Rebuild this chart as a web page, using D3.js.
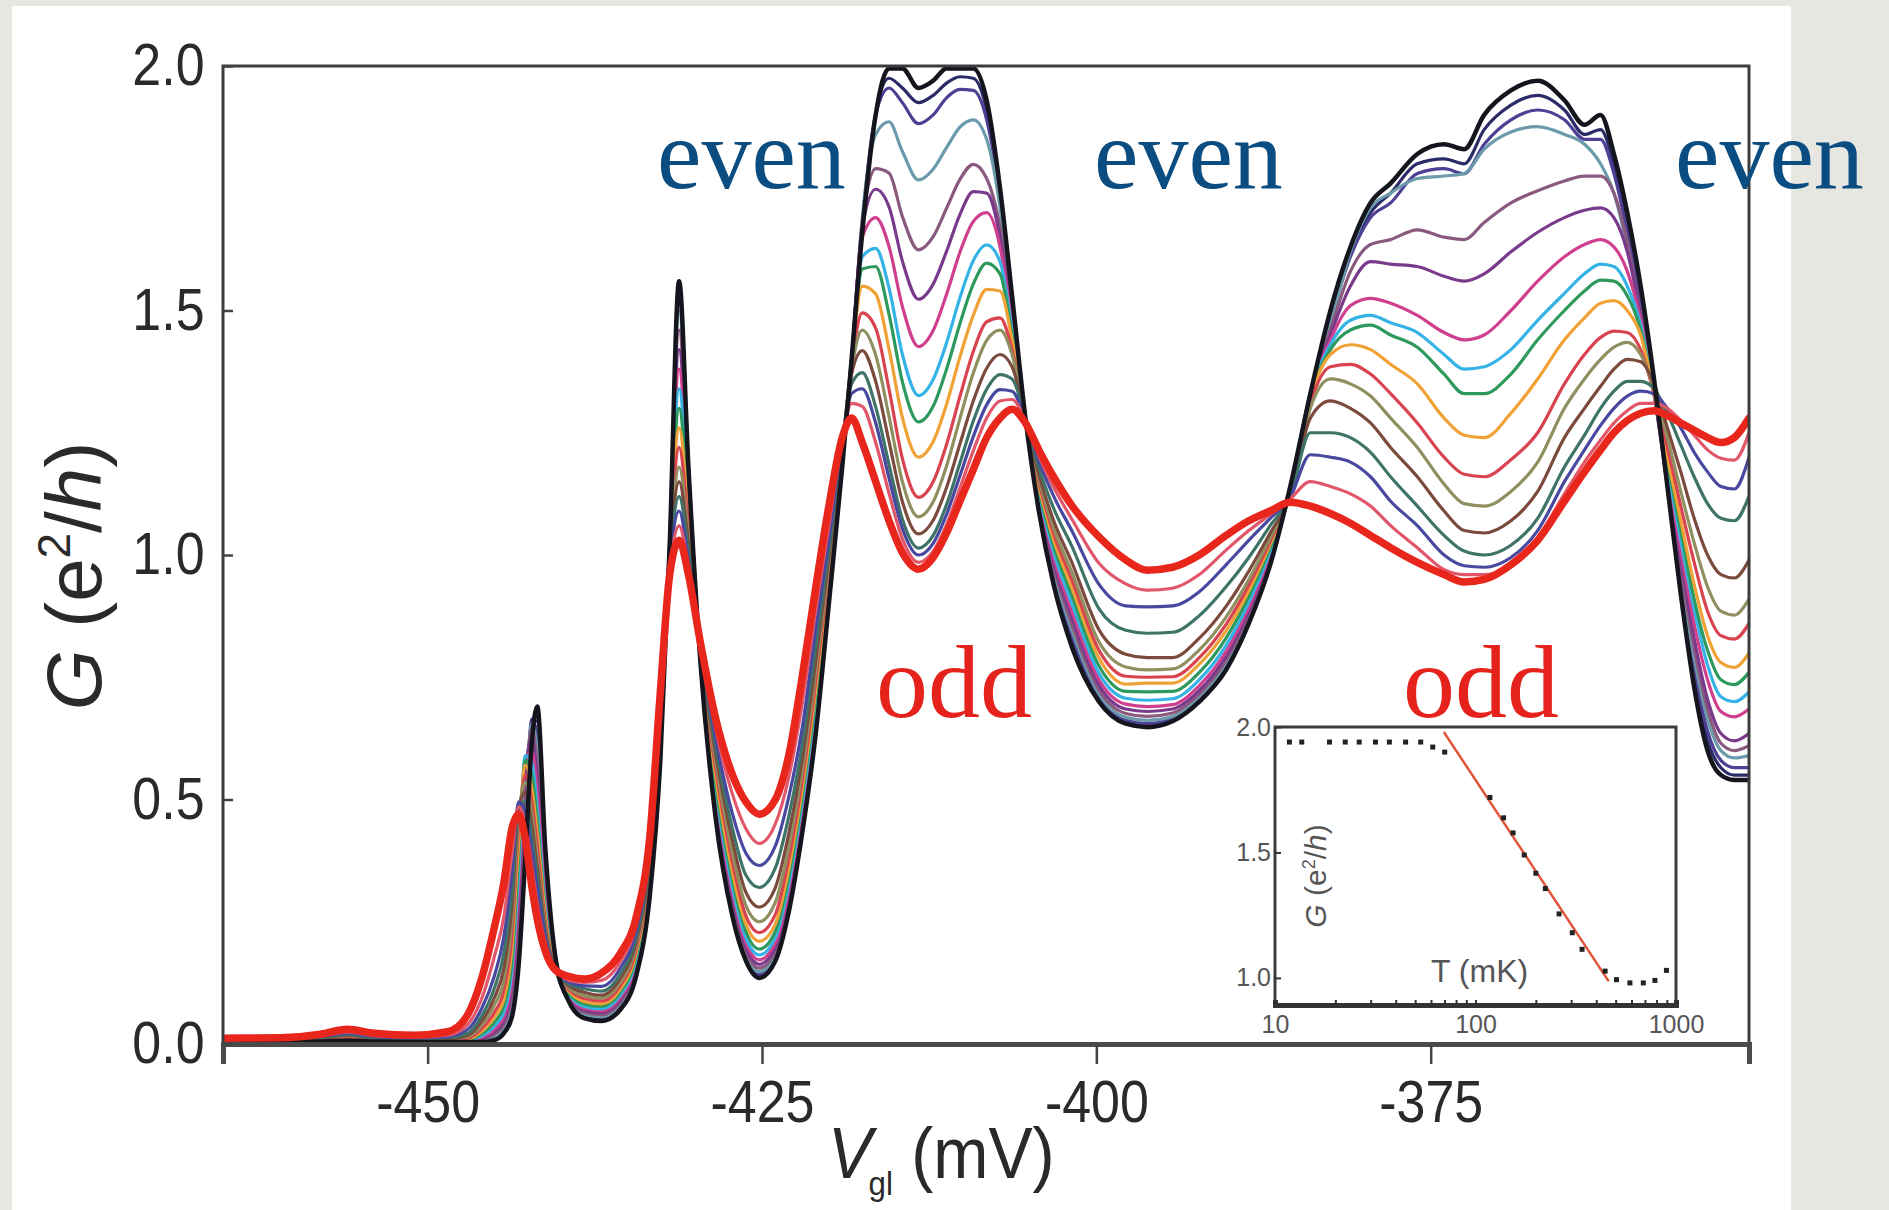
<!DOCTYPE html>
<html>
<head>
<meta charset="utf-8">
<script src="https://cdn.jsdelivr.net/npm/d3@7"></script>
<style>
  body { margin: 0; background: #e7e7e2; }
  svg { display: block; }
</style>
</head>
<body>
<svg id="chart" width="1889" height="1210"></svg>
<script>
// gate voltage grid (mV), shared by every temperature trace
const vgl = [-465.3, -461, -458, -456, -454, -451, -448.5, -447, -446, -445,
  -444.3, -443.7, -443.2, -442.7, -442.2, -441.8, -441.2, -440.4, -439.4, -438.3,
  -437, -435.6, -434.4, -433.4, -432.6, -431.9, -431.2, -430.5, -429.6, -428.5, -427.2, -426.2, -425.2,
  -424, -423, -422, -421, -420, -419, -418.3, -417.5, -416.5, -415.5, -414.5, -413.3,
  -412.2, -411.2, -410.2, -409.2, -408.2, -407.2, -406.3, -405.3,
  -404.3, -403.2, -401.8, -399.8, -397.8, -396.2,
  -394.3, -392.3, -390.3, -388.6, -387, -385.5, -384, -382.5, -381, -379.5,
  -378, -376, -374, -372.5, -371, -369, -367, -365,
  -363.5, -362.3, -361.3, -360.3, -359.3,
  -358.3, -357.3, -356.3, -355.3, -354.3, -353.3, -352.3, -351.2];

// conductance G (e^2/h), coldest trace first
const G00 = [0.004, 0.004, 0.005, 0.007, 0.005, 0.004, 0.004, 0.004, 0.004, 0.008,
  0.022, 0.055, 0.16, 0.38, 0.62, 0.69, 0.40, 0.17, 0.085, 0.053,
  0.047, 0.07, 0.14, 0.30, 0.58, 1.02, 1.56, 1.18, 0.78, 0.47, 0.26, 0.17, 0.135,
  0.17, 0.27, 0.43, 0.63, 0.9, 1.18, 1.40, 1.66, 1.9, 1.995, 1.995, 1.955,
  1.97, 1.995, 1.995, 1.995, 1.93, 1.75, 1.53, 1.28,
  1.09, 0.94, 0.81, 0.70, 0.655, 0.648,
  0.66, 0.70, 0.765, 0.86, 0.98, 1.14, 1.33, 1.5, 1.63, 1.72,
  1.76, 1.82, 1.84, 1.83, 1.9, 1.95, 1.97, 1.93,
  1.88, 1.9, 1.82, 1.7, 1.55,
  1.36, 1.14, 0.92, 0.73, 0.6, 0.55, 0.54, 0.54];
const G01 = [0.004, 0.004, 0.005, 0.007, 0.005, 0.004, 0.004, 0.004, 0.005, 0.01,
  0.026, 0.065, 0.19, 0.43, 0.66, 0.66, 0.37, 0.165, 0.086, 0.055,
  0.05, 0.073, 0.143, 0.303, 0.585, 1.015, 1.55, 1.18, 0.78, 0.475, 0.265, 0.173, 0.138,
  0.173, 0.275, 0.436, 0.636, 0.905, 1.185, 1.40, 1.67, 1.9, 1.975, 1.955, 1.925,
  1.94, 1.965, 1.978, 1.975, 1.91, 1.74, 1.52, 1.28,
  1.094, 0.947, 0.82, 0.703, 0.657, 0.65,
  0.661, 0.701, 0.768, 0.863, 0.982, 1.14, 1.33, 1.49, 1.62, 1.7,
  1.74, 1.8, 1.81, 1.8, 1.87, 1.92, 1.94, 1.91,
  1.86, 1.87, 1.8, 1.68, 1.53,
  1.35, 1.14, 0.93, 0.75, 0.62, 0.565, 0.55, 0.55];
const G02 = [0.004, 0.004, 0.005, 0.008, 0.005, 0.004, 0.004, 0.005, 0.006, 0.012,
  0.03, 0.075, 0.21, 0.46, 0.665, 0.63, 0.35, 0.16, 0.088, 0.058,
  0.053, 0.076, 0.147, 0.307, 0.59, 1.02, 1.53, 1.18, 0.78, 0.48, 0.27, 0.177, 0.142,
  0.177, 0.28, 0.443, 0.643, 0.91, 1.19, 1.40, 1.68, 1.9, 1.955, 1.925, 1.882,
  1.9, 1.935, 1.952, 1.95, 1.89, 1.73, 1.51, 1.28,
  1.099, 0.956, 0.831, 0.709, 0.662, 0.655,
  0.665, 0.704, 0.772, 0.867, 0.985, 1.138, 1.33, 1.48, 1.61, 1.69,
  1.72, 1.78, 1.79, 1.78, 1.84, 1.89, 1.91, 1.89,
  1.85, 1.85, 1.78, 1.66, 1.51,
  1.34, 1.14, 0.94, 0.77, 0.64, 0.58, 0.565, 0.565];
const G03 = [0.005, 0.005, 0.006, 0.008, 0.006, 0.005, 0.005, 0.005, 0.007, 0.015,
  0.035, 0.085, 0.23, 0.49, 0.655, 0.60, 0.335, 0.158, 0.09, 0.061,
  0.056, 0.08, 0.152, 0.312, 0.6, 1.02, 1.5, 1.17, 0.78, 0.49, 0.28, 0.183, 0.148,
  0.183, 0.287, 0.451, 0.651, 0.915, 1.19, 1.40, 1.69, 1.86, 1.886, 1.825, 1.767,
  1.789, 1.833, 1.875, 1.89, 1.85, 1.71, 1.5, 1.28,
  1.105, 0.966, 0.844, 0.716, 0.668, 0.662,
  0.67, 0.709, 0.778, 0.872, 0.988, 1.136, 1.33, 1.47, 1.62, 1.71,
  1.74, 1.77, 1.775, 1.78, 1.83, 1.865, 1.876, 1.86,
  1.84, 1.8, 1.74, 1.63, 1.49,
  1.33, 1.14, 0.95, 0.79, 0.665, 0.6, 0.585, 0.59];
const G04 = [0.005, 0.005, 0.006, 0.009, 0.006, 0.005, 0.005, 0.006, 0.009, 0.02,
  0.04, 0.10, 0.26, 0.52, 0.645, 0.57, 0.32, 0.155, 0.092, 0.065,
  0.06, 0.085, 0.157, 0.318, 0.61, 1.02, 1.46, 1.155, 0.785, 0.5, 0.29, 0.19, 0.155,
  0.19, 0.295, 0.46, 0.66, 0.92, 1.195, 1.40, 1.68, 1.79, 1.781, 1.692, 1.624,
  1.651, 1.709, 1.768, 1.799, 1.77, 1.67, 1.49, 1.28,
  1.11, 0.975, 0.856, 0.724, 0.676, 0.67,
  0.677, 0.716, 0.785, 0.878, 0.992, 1.135, 1.33, 1.46, 1.58, 1.635,
  1.645, 1.665, 1.65, 1.645, 1.68, 1.72, 1.745, 1.765,
  1.775, 1.775, 1.74, 1.64, 1.49,
  1.33, 1.15, 0.97, 0.81, 0.685, 0.615, 0.6, 0.61];
const G05 = [0.005, 0.005, 0.006, 0.01, 0.007, 0.005, 0.006, 0.006, 0.011, 0.025,
  0.048, 0.115, 0.29, 0.55, 0.625, 0.54, 0.305, 0.153, 0.094, 0.069,
  0.064, 0.09, 0.162, 0.324, 0.62, 1.02, 1.42, 1.14, 0.785, 0.51, 0.30, 0.198, 0.163,
  0.198, 0.305, 0.47, 0.67, 0.927, 1.2, 1.40, 1.67, 1.748, 1.712, 1.601, 1.523,
  1.554, 1.621, 1.696, 1.743, 1.74, 1.65, 1.48, 1.28,
  1.116, 0.985, 0.87, 0.734, 0.685, 0.68,
  0.685, 0.723, 0.793, 0.885, 0.997, 1.133, 1.33, 1.45, 1.55, 1.6,
  1.595, 1.59, 1.57, 1.56, 1.575, 1.62, 1.66, 1.69,
  1.705, 1.71, 1.69, 1.62, 1.49,
  1.33, 1.16, 0.99, 0.83, 0.705, 0.635, 0.62, 0.635];
const G06 = [0.006, 0.006, 0.007, 0.011, 0.007, 0.006, 0.006, 0.007, 0.013, 0.03,
  0.056, 0.13, 0.32, 0.575, 0.60, 0.51, 0.29, 0.152, 0.097, 0.073,
  0.068, 0.095, 0.168, 0.33, 0.63, 1.03, 1.38, 1.13, 0.79, 0.52, 0.31, 0.207, 0.172,
  0.207, 0.316, 0.481, 0.681, 0.934, 1.2, 1.40, 1.65, 1.69, 1.631, 1.508, 1.426,
  1.459, 1.533, 1.619, 1.682, 1.70, 1.63, 1.47, 1.28,
  1.122, 0.996, 0.883, 0.745, 0.695, 0.69,
  0.694, 0.733, 0.803, 0.893, 1.002, 1.131, 1.33, 1.44, 1.51, 1.525,
  1.515, 1.49, 1.455, 1.44, 1.45, 1.5, 1.56, 1.61,
  1.635, 1.645, 1.63, 1.58, 1.48,
  1.33, 1.17, 1.01, 0.86, 0.745, 0.68, 0.669, 0.685];
const G07 = [0.006, 0.006, 0.008, 0.012, 0.008, 0.006, 0.007, 0.008, 0.016, 0.037,
  0.066, 0.15, 0.35, 0.59, 0.575, 0.48, 0.28, 0.151, 0.10, 0.077,
  0.072, 0.1, 0.174, 0.337, 0.64, 1.025, 1.34, 1.11, 0.79, 0.53, 0.32, 0.217, 0.182,
  0.218, 0.328, 0.493, 0.693, 0.942, 1.205, 1.40, 1.61, 1.627, 1.546, 1.41, 1.326,
  1.359, 1.434, 1.526, 1.602, 1.634, 1.60, 1.46, 1.28,
  1.128, 1.007, 0.899, 0.758, 0.707, 0.703,
  0.706, 0.745, 0.815, 0.903, 1.008, 1.13, 1.33, 1.43, 1.48, 1.49,
  1.475, 1.455, 1.41, 1.38, 1.385, 1.42, 1.48, 1.535,
  1.575, 1.595, 1.59, 1.55, 1.47,
  1.33, 1.18, 1.03, 0.89, 0.775, 0.71, 0.70, 0.72];
const G08 = [0.006, 0.006, 0.008, 0.013, 0.008, 0.007, 0.007, 0.009, 0.02, 0.045,
  0.078, 0.17, 0.38, 0.58, 0.55, 0.455, 0.27, 0.15, 0.103, 0.082,
  0.077, 0.106, 0.18, 0.344, 0.65, 1.02, 1.3, 1.1, 0.79, 0.54, 0.335, 0.23, 0.194,
  0.23, 0.342, 0.506, 0.706, 0.95, 1.21, 1.40, 1.585, 1.59, 1.492, 1.354, 1.272,
  1.304, 1.38, 1.473, 1.554, 1.597, 1.575, 1.45, 1.28,
  1.135, 1.02, 0.915, 0.773, 0.721, 0.72,
  0.721, 0.76, 0.83, 0.915, 1.015, 1.128, 1.325, 1.42, 1.46, 1.47,
  1.45, 1.425, 1.37, 1.33, 1.33, 1.37, 1.44, 1.5,
  1.54, 1.562, 1.56, 1.53, 1.46,
  1.33, 1.19, 1.05, 0.91, 0.805, 0.745, 0.735, 0.76];
const G09 = [0.007, 0.007, 0.009, 0.014, 0.009, 0.007, 0.008, 0.01, 0.025, 0.055,
  0.092, 0.195, 0.41, 0.57, 0.52, 0.43, 0.26, 0.15, 0.107, 0.087,
  0.082, 0.112, 0.187, 0.351, 0.66, 1.02, 1.26, 1.08, 0.795, 0.555, 0.35, 0.245, 0.21,
  0.245, 0.358, 0.52, 0.72, 0.96, 1.21, 1.40, 1.55, 1.534, 1.421, 1.281, 1.2,
  1.232, 1.308, 1.405, 1.49, 1.543, 1.54, 1.44, 1.28,
  1.142, 1.032, 0.931, 0.789, 0.736, 0.738,
  0.738, 0.777, 0.845, 0.927, 1.022, 1.126, 1.32, 1.41, 1.43, 1.42,
  1.39, 1.35, 1.28, 1.245, 1.24, 1.29, 1.36, 1.44,
  1.485, 1.515, 1.52, 1.5, 1.45,
  1.33, 1.2, 1.07, 0.94, 0.835, 0.78, 0.77, 0.80];
const G10 = [0.007, 0.007, 0.01, 0.015, 0.01, 0.008, 0.009, 0.012, 0.03, 0.065,
  0.11, 0.22, 0.44, 0.55, 0.495, 0.405, 0.25, 0.15, 0.11, 0.093,
  0.088, 0.119, 0.194, 0.358, 0.67, 1.01, 1.22, 1.06, 0.795, 0.57, 0.37, 0.262, 0.228,
  0.265, 0.378, 0.537, 0.737, 0.97, 1.215, 1.39, 1.495, 1.464, 1.339, 1.197, 1.118,
  1.15, 1.226, 1.324, 1.416, 1.477, 1.485, 1.42, 1.28,
  1.149, 1.044, 0.947, 0.805, 0.752, 0.75,
  0.751, 0.79, 0.858, 0.938, 1.028, 1.124, 1.31, 1.385, 1.39, 1.37,
  1.33, 1.27, 1.2, 1.165, 1.16, 1.195, 1.25, 1.35,
  1.41, 1.445, 1.458, 1.455, 1.42,
  1.33, 1.22, 1.1, 0.985, 0.885, 0.835, 0.828, 0.86];
const G11 = [0.008, 0.008, 0.011, 0.017, 0.011, 0.009, 0.01, 0.015, 0.037, 0.08,
  0.13, 0.25, 0.46, 0.535, 0.47, 0.38, 0.24, 0.15, 0.114, 0.099,
  0.094, 0.126, 0.202, 0.366, 0.68, 1.0, 1.18, 1.04, 0.80, 0.585, 0.39, 0.283, 0.25,
  0.29, 0.402, 0.557, 0.757, 0.982, 1.22, 1.38, 1.46, 1.409, 1.283, 1.15, 1.078,
  1.109, 1.182, 1.279, 1.372, 1.439, 1.46, 1.41, 1.28,
  1.156, 1.056, 0.963, 0.822, 0.771, 0.765,
  0.767, 0.806, 0.873, 0.95, 1.035, 1.122, 1.3, 1.36, 1.35, 1.325,
  1.28, 1.22, 1.145, 1.105, 1.1, 1.13, 1.19, 1.3,
  1.36, 1.4, 1.425, 1.435, 1.41,
  1.34, 1.24, 1.13, 1.025, 0.935, 0.885, 0.877, 0.91];
const G12 = [0.008, 0.008, 0.012, 0.018, 0.012, 0.01, 0.011, 0.018, 0.045, 0.095,
  0.155, 0.28, 0.48, 0.515, 0.445, 0.36, 0.232, 0.15, 0.118, 0.106,
  0.1, 0.134, 0.211, 0.374, 0.69, 1.0, 1.15, 1.025, 0.80, 0.60, 0.415, 0.31, 0.28,
  0.32, 0.43, 0.58, 0.78, 0.995, 1.225, 1.37, 1.418, 1.355, 1.232, 1.109, 1.043,
  1.071, 1.138, 1.227, 1.315, 1.382, 1.41, 1.385, 1.28,
  1.165, 1.071, 0.983, 0.847, 0.797, 0.79,
  0.79, 0.83, 0.895, 0.967, 1.045, 1.12, 1.28, 1.315, 1.3, 1.27,
  1.22, 1.16, 1.09, 1.05, 1.045, 1.07, 1.13, 1.24,
  1.3, 1.345, 1.38, 1.4, 1.395,
  1.35, 1.26, 1.17, 1.075, 1.0, 0.96, 0.953, 0.99];
const G13 = [0.009, 0.009, 0.013, 0.02, 0.013, 0.011, 0.013, 0.022, 0.055, 0.115,
  0.185, 0.31, 0.49, 0.495, 0.42, 0.34, 0.225, 0.15, 0.122, 0.113,
  0.108, 0.143, 0.221, 0.383, 0.70, 0.99, 1.12, 1.01, 0.805, 0.615, 0.44, 0.345, 0.32,
  0.36, 0.465, 0.61, 0.81, 1.01, 1.23, 1.35, 1.373, 1.303, 1.185, 1.073, 1.014,
  1.04, 1.103, 1.188, 1.274, 1.339, 1.369, 1.36, 1.28,
  1.179, 1.096, 1.016, 0.89, 0.846, 0.84,
  0.842, 0.876, 0.935, 0.995, 1.06, 1.12, 1.25, 1.25, 1.24, 1.21,
  1.16, 1.1, 1.04, 1.008, 1.0, 1.02, 1.075, 1.18,
  1.245, 1.3, 1.335, 1.355, 1.355,
  1.34, 1.29, 1.225, 1.16, 1.105, 1.075, 1.07, 1.12];
const G14 = [0.01, 0.01, 0.015, 0.022, 0.015, 0.012, 0.015, 0.03, 0.07, 0.14,
  0.22, 0.35, 0.495, 0.475, 0.395, 0.32, 0.218, 0.15, 0.126, 0.119,
  0.118, 0.155, 0.232, 0.393, 0.705, 0.98, 1.09, 0.99, 0.81, 0.63, 0.47, 0.39, 0.365,
  0.405, 0.505, 0.645, 0.845, 1.03, 1.235, 1.33, 1.34, 1.27, 1.157, 1.054, 1.0,
  1.024, 1.083, 1.162, 1.242, 1.307, 1.338, 1.335, 1.275,
  1.193, 1.121, 1.048, 0.94, 0.896, 0.894,
  0.896, 0.925, 0.98, 1.03, 1.075, 1.118, 1.205, 1.2, 1.19, 1.16,
  1.11, 1.06, 1.0, 0.978, 0.975, 0.995, 1.05, 1.15,
  1.215, 1.265, 1.3, 1.325, 1.335,
  1.33, 1.3, 1.26, 1.21, 1.17, 1.14, 1.135, 1.2];
const G15 = [0.011, 0.011, 0.017, 0.025, 0.017, 0.014, 0.018, 0.04, 0.09, 0.18,
  0.26, 0.39, 0.485, 0.45, 0.36, 0.285, 0.205, 0.151, 0.13, 0.126,
  0.13, 0.168, 0.245, 0.405, 0.71, 0.97, 1.06, 0.975, 0.815, 0.65, 0.51, 0.44, 0.41,
  0.45, 0.545, 0.695, 0.885, 1.06, 1.24, 1.31, 1.304, 1.23, 1.126, 1.033, 0.985,
  1.008, 1.062, 1.137, 1.213, 1.28, 1.315, 1.318, 1.275,
  1.203, 1.139, 1.072, 0.983, 0.941, 0.928,
  0.932, 0.96, 1.01, 1.05, 1.083, 1.115, 1.15, 1.14, 1.125, 1.1,
  1.06, 1.015, 0.97, 0.96, 0.96, 0.98, 1.035, 1.125,
  1.19, 1.235, 1.27, 1.295, 1.31,
  1.31, 1.3, 1.275, 1.245, 1.215, 1.198, 1.194, 1.25];
// hottest trace (thick red)
const G16 = [0.012, 0.013, 0.02, 0.03, 0.022, 0.018, 0.025, 0.06, 0.13, 0.24,
  0.33, 0.44, 0.47, 0.42, 0.32, 0.255, 0.19, 0.15, 0.138, 0.133,
  0.145, 0.185, 0.26, 0.42, 0.72, 0.96, 1.03, 0.96, 0.82, 0.67, 0.55, 0.495, 0.47,
  0.50, 0.59, 0.75, 0.93, 1.1, 1.24, 1.28, 1.23, 1.15, 1.07, 1.005, 0.971,
  0.995, 1.045, 1.11, 1.175, 1.24, 1.28, 1.298, 1.27,
  1.215, 1.16, 1.1, 1.037, 0.99, 0.969,
  0.975, 1.0, 1.04, 1.07, 1.09, 1.108, 1.1, 1.085, 1.065, 1.04,
  1.015, 0.985, 0.96, 0.945, 0.95, 0.98, 1.03, 1.11,
  1.17, 1.215, 1.25, 1.275, 1.29,
  1.295, 1.285, 1.27, 1.255, 1.24, 1.23, 1.24, 1.28];

const curves = [G00, G01, G02, G03, G04, G05, G06, G07, G08, G09, G10, G11, G12, G13, G14, G15, G16];
const curveColors = ["#15151e", "#2b2b68", "#4c3f94", "#6b9bab", "#8a5a7e", "#7a3a8c", "#cf3f8e",
  "#36b3e6", "#2e995c", "#f0a236", "#d9434f", "#8f8f60", "#7b4a3c", "#3e7468", "#4848a0", "#e2566a", "#e8261c"];

const xTicks = [-450, -425, -400, -375];
const yTicks = [0, 0.5, 1.0, 1.5, 2.0];

// inset: G at the odd valley versus temperature
const insetT = [11.8, 13.6, 18.7, 22.4, 26.3, 31.7, 37.2, 44.8, 53.3, 61.2, 70.2,
  118, 138, 154, 175, 200, 223, 261, 304, 340, 443, 505, 589, 687, 785, 896];
const insetG = [1.94, 1.94, 1.94, 1.94, 1.94, 1.94, 1.94, 1.94, 1.94, 1.92, 1.90,
  1.719, 1.638, 1.578, 1.49, 1.417, 1.356, 1.255, 1.18, 1.114, 1.027, 0.993, 0.98, 0.98, 0.99, 1.03];
const fitT = [69.5, 462];
const fitG = [1.98, 0.986];
const insetXMajor = [10, 100, 1000];
const insetYTicks = [1.0, 1.5, 2.0];

curves.forEach((c, i) => { if (c.length !== vgl.length) console.error("trace " + i + " has " + c.length); });

const svg = d3.select("#chart");
svg.append("rect").attr("width", 1889).attr("height", 1210).attr("fill", "#e7e7e2");
svg.append("rect").attr("x", 12).attr("y", 6).attr("width", 1779).attr("height", 1204).attr("fill", "#ffffff");

const x = d3.scaleLinear().domain([-465.3, -351.2]).range([223, 1749]);
const y = d3.scaleLinear().domain([0, 2]).range([1044, 66]);

svg.append("clipPath").attr("id", "plotclip")
  .append("rect")
  .attr("x", x.range()[0]).attr("y", y.range()[1])
  .attr("width", x.range()[1] - x.range()[0])
  .attr("height", y.range()[0] - y.range()[1]);

const line = d3.line()
  .x((d, i) => x(vgl[i]))
  .y(d => y(d))
  .curve(d3.curveMonotoneX);

const drawOrder = [1, 2, 3, 4, 5, 6, 7, 8, 9, 10, 11, 12, 13, 14, 15, 0, 16];
svg.append("g")
  .attr("clip-path", "url(#plotclip)")
  .selectAll("path")
  .data(drawOrder)
  .join("path")
  .attr("d", k => line(curves[k]))
  .attr("fill", "none")
  .attr("stroke", k => curveColors[k])
  .attr("stroke-width", k => k === 16 ? 7.5 : (k === 0 ? 4.5 : 3.2))
  .attr("stroke-linejoin", "round")
  .attr("stroke-linecap", "round");

// frame
svg.append("rect")
  .attr("x", x.range()[0]).attr("y", y.range()[1])
  .attr("width", x.range()[1] - x.range()[0])
  .attr("height", y.range()[0] - y.range()[1])
  .attr("fill", "none")
  .attr("stroke", "#3c3c3c")
  .attr("stroke-width", 3);

const tickFont = "'Liberation Sans', Arial, sans-serif";

// x axis
const xAxis = svg.append("g")
  .attr("transform", "translate(0," + y(0) + ")")
  .call(d3.axisBottom(x).tickValues(xTicks).tickSize(20).tickPadding(16).tickFormat(d => String(d)));
xAxis.select(".domain").attr("stroke", "#4a4a4a").attr("stroke-width", 5);
xAxis.selectAll(".tick line").attr("stroke", "#444").attr("stroke-width", 2.5);
xAxis.selectAll("text")
  .attr("fill", "#2a2a2a")
  .style("font-family", tickFont)
  .style("font-size", "59px")
  .attr("transform", "scale(0.88,1)");

// y axis
const yAxis = svg.append("g")
  .attr("transform", "translate(" + x.range()[0] + ",0)")
  .call(d3.axisLeft(y).tickValues(yTicks).tickSize(-10).tickPadding(21).tickFormat(d3.format(".1f")));
yAxis.select(".domain").remove();
yAxis.selectAll(".tick line").attr("stroke", "#444").attr("stroke-width", 2.5);
yAxis.selectAll("text")
  .attr("fill", "#2a2a2a")
  .style("font-family", tickFont)
  .style("font-size", "59px")
  .attr("transform", "scale(0.88,1)");

// axis titles
const xTitle = svg.append("text")
  .attr("transform", "translate(828,1178) scale(0.92,1)")
  .attr("fill", "#2a2a2a")
  .style("font-family", tickFont)
  .style("font-size", "72px");
xTitle.append("tspan").style("font-style", "italic").text("V");
xTitle.append("tspan").attr("dx", -4).attr("dy", 17).style("font-size", "34px").text("gl");
xTitle.append("tspan").attr("dy", -17).text(" (mV)");

const yTitle = svg.append("text")
  .attr("transform", "translate(101,576) rotate(-90)")
  .attr("text-anchor", "middle")
  .attr("fill", "#2a2a2a")
  .style("font-family", tickFont)
  .style("font-size", "78px");
yTitle.append("tspan").style("font-style", "italic").text("G");
yTitle.append("tspan").text(" (e");
yTitle.append("tspan").attr("dy", -31).style("font-size", "46px").text("2");
yTitle.append("tspan").attr("dy", 31).text("/");
yTitle.append("tspan").style("font-style", "italic").text("h");
yTitle.append("tspan").text(")");

// even / odd annotations
const serif = "'Liberation Serif', 'Times New Roman', serif";
svg.selectAll("text.even")
  .data([657, 1094, 1675])
  .join("text")
  .attr("class", "even")
  .attr("x", d => d).attr("y", 188)
  .attr("fill", "#0b4d80")
  .style("font-family", serif)
  .style("font-size", "100px")
  .text("even");
svg.selectAll("text.odd")
  .data([876, 1403])
  .join("text")
  .attr("class", "odd")
  .attr("x", d => d).attr("y", 717)
  .attr("fill", "#e5231c")
  .style("font-family", serif)
  .style("font-size", "104px")
  .text("odd");

// inset
const ix = d3.scaleLog().domain([10, 1000]).range([1275, 1676]);
const iy = d3.scaleLinear().domain([0.892, 2.0]).range([1005, 727]);
const inset = svg.append("g");
inset.append("rect")
  .attr("x", ix.range()[0]).attr("y", iy.range()[1])
  .attr("width", ix.range()[1] - ix.range()[0])
  .attr("height", iy.range()[0] - iy.range()[1])
  .attr("fill", "#ffffff")
  .attr("stroke", "#3c3c3c")
  .attr("stroke-width", 3);

const minorT = [];
[10, 100].forEach(dec => { for (let m = 1; m <= 10; m++) minorT.push(dec * m); });
const ixAxis = inset.append("g")
  .attr("transform", "translate(0," + iy.range()[0] + ")")
  .call(d3.axisBottom(ix).tickValues(Array.from(new Set(minorT))).tickSize(-5).tickPadding(10)
    .tickFormat(d => insetXMajor.includes(d) ? String(d) : ""));
ixAxis.select(".domain").attr("stroke", "#333").attr("stroke-width", 5);
ixAxis.selectAll(".tick line").attr("stroke", "#333").attr("stroke-width", 2);
ixAxis.selectAll("text")
  .attr("fill", "#555")
  .style("font-family", tickFont)
  .style("font-size", "25px");

const iyAxis = inset.append("g")
  .attr("transform", "translate(" + ix.range()[0] + ",0)")
  .call(d3.axisLeft(iy).tickValues(insetYTicks).tickSize(-6).tickPadding(4).tickFormat(d3.format(".1f")));
iyAxis.select(".domain").remove();
iyAxis.selectAll(".tick line").attr("stroke", "#333").attr("stroke-width", 2);
iyAxis.selectAll("text")
  .attr("fill", "#555")
  .style("font-family", tickFont)
  .style("font-size", "25px");

inset.append("path")
  .attr("d", d3.line().x((d, i) => ix(fitT[i])).y(d => iy(d))(fitG))
  .attr("stroke", "#e0553a")
  .attr("stroke-width", 2.5)
  .attr("fill", "none");

inset.selectAll("rect.dot")
  .data(insetG)
  .join("rect")
  .attr("class", "dot")
  .attr("x", (d, i) => ix(insetT[i]) - 2.5)
  .attr("y", d => iy(d) - 2.5)
  .attr("width", 5).attr("height", 5)
  .attr("fill", "#222");

inset.append("text")
  .attr("x", 1431).attr("y", 982)
  .attr("fill", "#555")
  .style("font-family", tickFont)
  .style("font-size", "32px")
  .text("T (mK)");

const iyTitle = inset.append("text")
  .attr("transform", "translate(1326,876) rotate(-90)")
  .attr("text-anchor", "middle")
  .attr("fill", "#555")
  .style("font-family", tickFont)
  .style("font-size", "30px");
iyTitle.append("tspan").style("font-style", "italic").text("G");
iyTitle.append("tspan").text(" (e");
iyTitle.append("tspan").attr("dy", -11).style("font-size", "18px").text("2");
iyTitle.append("tspan").attr("dy", 11).text("/");
iyTitle.append("tspan").style("font-style", "italic").text("h");
iyTitle.append("tspan").text(")");
</script>
</body>
</html>
